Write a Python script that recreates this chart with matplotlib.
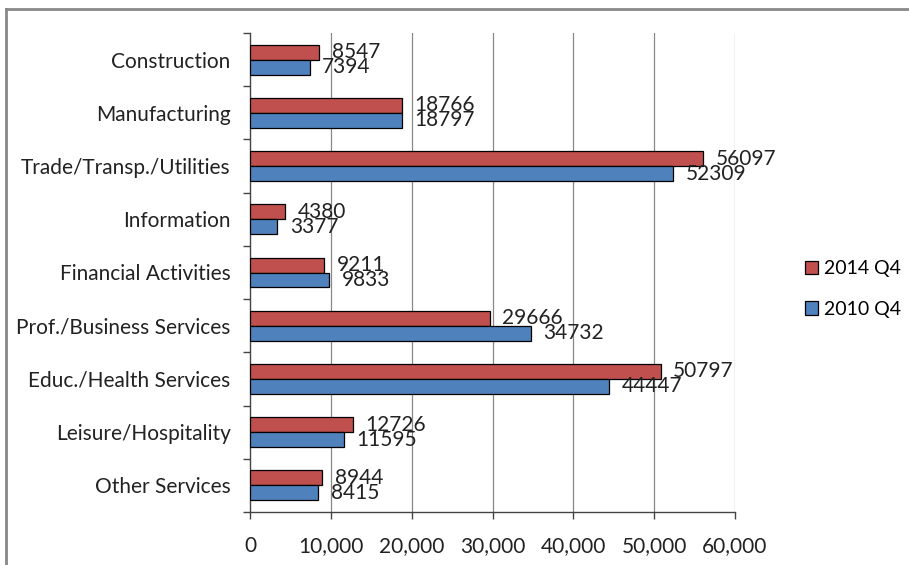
import matplotlib.pyplot as plt
import numpy as np
from matplotlib.lines import Line2D
from matplotlib.ticker import FuncFormatter, FixedLocator

plt.rcParams['font.family'] = ['Lato', 'DejaVu Sans']

industries = [
    "Construction", "Manufacturing", "Trade/Transp./Utilities", "Information",
    "Financial Activities", "Prof./Business Services", "Educ./Health Services",
    "Leisure/Hospitality", "Other Services",
]
q4_2014 = [8547, 18766, 56097, 4380, 9211, 29666, 50797, 12726, 8944]
q4_2010 = [7394, 18797, 52309, 3377, 9833, 34732, 44447, 11595, 8415]

RED = "#C0504D"
BLUE = "#4F81BD"
FS = 15

fig = plt.figure(figsize=(9.09, 5.65), dpi=100)
ax = fig.add_axes([250 / 909, 1 - 512 / 565, 485 / 909, 479 / 565])

y = np.arange(len(industries))
h = 0.28
ax.barh(y - h / 2, q4_2014, height=h, color=RED, edgecolor="black", linewidth=0.9,
        label="2014 Q4", zorder=3)
ax.barh(y + h / 2, q4_2010, height=h, color=BLUE, edgecolor="black", linewidth=0.9,
        label="2010 Q4", zorder=3)

# value labels just past the bar ends
for yi, a, b in zip(y, q4_2014, q4_2010):
    ax.annotate(str(a), (a, yi - h / 2), xytext=(9, 0), textcoords="offset points",
                va="center", ha="left", fontsize=FS, color="#222222")
    ax.annotate(str(b), (b, yi + h / 2), xytext=(9, 0), textcoords="offset points",
                va="center", ha="left", fontsize=FS, color="#222222")

ax.set_xlim(0, 60000)
ax.set_ylim(len(industries) - 0.5, -0.5)
ax.set_xticks(np.arange(0, 60001, 10000))
ax.xaxis.set_major_formatter(FuncFormatter(lambda v, p: f"{int(v):,}"))
ax.set_yticks(y)
ax.set_yticklabels(industries)
ax.yaxis.set_minor_locator(FixedLocator(np.arange(-0.5, len(industries), 1)))
ax.tick_params(axis="y", which="major", length=0, pad=14, labelsize=FS, labelcolor="#222222")
ax.tick_params(axis="y", which="minor", length=5, width=1, color="#444444")
ax.tick_params(axis="x", length=5, width=1, color="#444444", pad=12, labelsize=FS,
               labelcolor="#222222")

for x in range(10000, 60001, 10000):
    ax.axvline(x, color="#888888", linewidth=0.9, zorder=1)

for side in ("top", "right"):
    ax.spines[side].set_visible(False)
for side in ("left", "bottom"):
    ax.spines[side].set_color("#444444")
    ax.spines[side].set_linewidth(1)

handles, labels = ax.get_legend_handles_labels()
fig.legend(handles, labels, loc="center left", bbox_to_anchor=(787 / 909, 1 - 289 / 565),
           frameon=False, fontsize=14, handlelength=0.7, handleheight=0.7,
           handletextpad=0.3, labelspacing=1.2)

# outer border of the chart area
fig.add_artist(Line2D([6 / 909, 6 / 909], [0, 1 - 9 / 565], transform=fig.transFigure,
                      color="#888888", linewidth=2))
fig.add_artist(Line2D([6 / 909, 1], [1 - 9 / 565, 1 - 9 / 565], transform=fig.transFigure,
                      color="#888888", linewidth=2))

fig.savefig("out.png", dpi=100)
